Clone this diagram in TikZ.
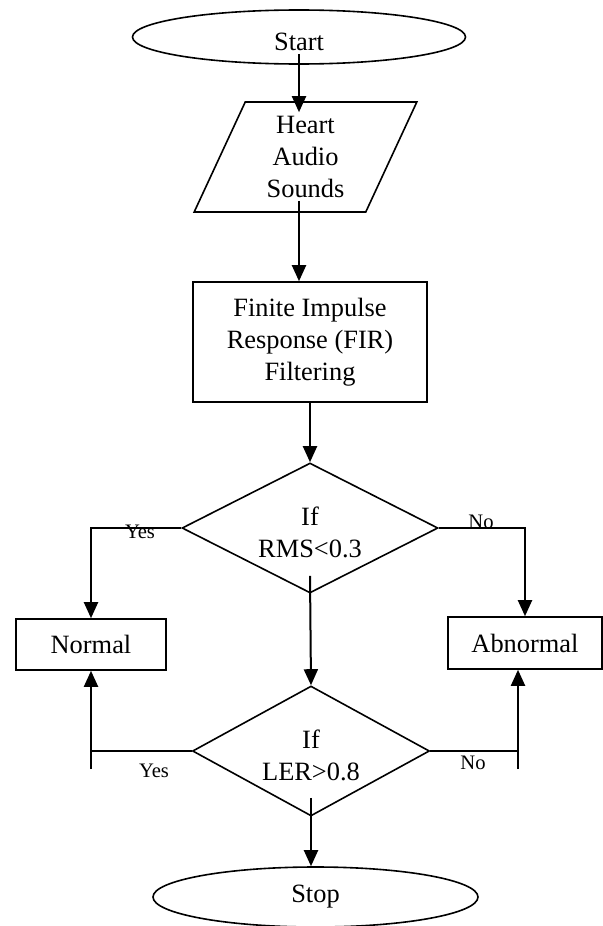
\documentclass[tikz,border=0pt]{standalone}
\usepackage{fontspec}
\setmainfont{Liberation Serif}
\usepackage{tikz}
\usetikzlibrary{arrows.meta,positioning,shapes.geometric,calc}

\newcommand{\lowered}[2]{\raisebox{-#1}[\height][\depth]{#2}}

\begin{document}
\begin{tikzpicture}[
  x=0.5pt, y=-0.5pt,
  terminal/.style={
    draw,
    ellipse,
    inner sep=0pt,
    line width=0.8pt
  },
  inputbox/.style={
    draw,
    trapezium,
    trapezium left angle=68,
    trapezium right angle=112,
    trapezium stretches=true,
    align=center,
    inner sep=0pt,
    line width=0.8pt
  },
  process/.style={draw, rectangle, align=center, line width=0.8pt},
  decision/.style={draw, diamond, aspect=2, align=center, inner sep=0pt, line width=0.8pt},
  flow/.style={-{Triangle[length=8pt,width=7pt]}, line width=1pt},
  link/.style={line width=1pt},
  blabel/.style={font=\fontsize{10.3}{12}\selectfont, inner sep=0pt},
  font=\fontsize{13.2}{16}\selectfont
]
\useasboundingbox (0,0) rectangle (603,926);

% Main column
\node[terminal, minimum width=166.5pt, minimum height=27pt] (start) at (299,37) {\lowered{2.5pt}{Start}};
\node[inputbox, minimum width=111.5pt, minimum height=55pt] (input) at (305.5,157) {Heart\\Audio\\Sounds};
\node[process, minimum width=117pt, minimum height=60pt] (fir) at (310,342) {Finite Impulse\\Response (FIR)\\Filtering};
\node[decision, minimum width=128pt, minimum height=65pt] (rms) at (310,528) {\lowered{2pt}{If}\\\lowered{2pt}{RMS<0.3}};
\node[decision, minimum width=118.5pt, minimum height=65pt] (ler) at (311,751) {\lowered{2pt}{If}\\\lowered{2pt}{LER>0.8}};
\node[terminal, minimum width=162.5pt, minimum height=30pt] (stop) at (315.5,897) {Stop};

% Outcomes
\node[process, minimum width=75pt, minimum height=25.5pt] (normal) at (91,644.5) {Normal};
\node[process, minimum width=77pt, minimum height=26pt] (abnormal) at (525,643) {Abnormal};

% Branch labels
\node[blabel] (yes1) at (140,532) {Yes};
\node[blabel] (no1) at (481,522) {No};
\node[blabel] (yes2) at (154,771) {Yes};
\node[blabel] (no2) at (473,763) {No};

\draw[flow] ([yshift=5.5pt]start.south) -- ([yshift=-5.5pt]start.south |- input.north);
\draw[flow] ([yshift=6pt]start.south |- input.south) -- (start.south |- fir.north);
\draw[flow] (fir.south) -- (rms.north);
\draw[flow] ([yshift=9pt]rms.south) -- (ler.north);
\draw[flow] ([yshift=9.5pt]ler.south) -- (ler.south |- stop.north);

\draw[flow] (rms.west) -| (normal.north);
\draw[flow] (rms.east) -| (abnormal.north);

\coordinate (yesfoot) at ($(ler.west -| normal.south)+(0,18)$);
\coordinate (nofoot) at ($(ler.east -| abnormal.south)+(-7,18)$);
\draw[link] (ler.west) -- (ler.west -| normal.south);
\draw[flow] (yesfoot) -- (normal.south);
\draw[link] (ler.east) -- (ler.east -| nofoot);
\draw[flow] (nofoot) -- (nofoot |- abnormal.south);
\end{tikzpicture}
\end{document}
